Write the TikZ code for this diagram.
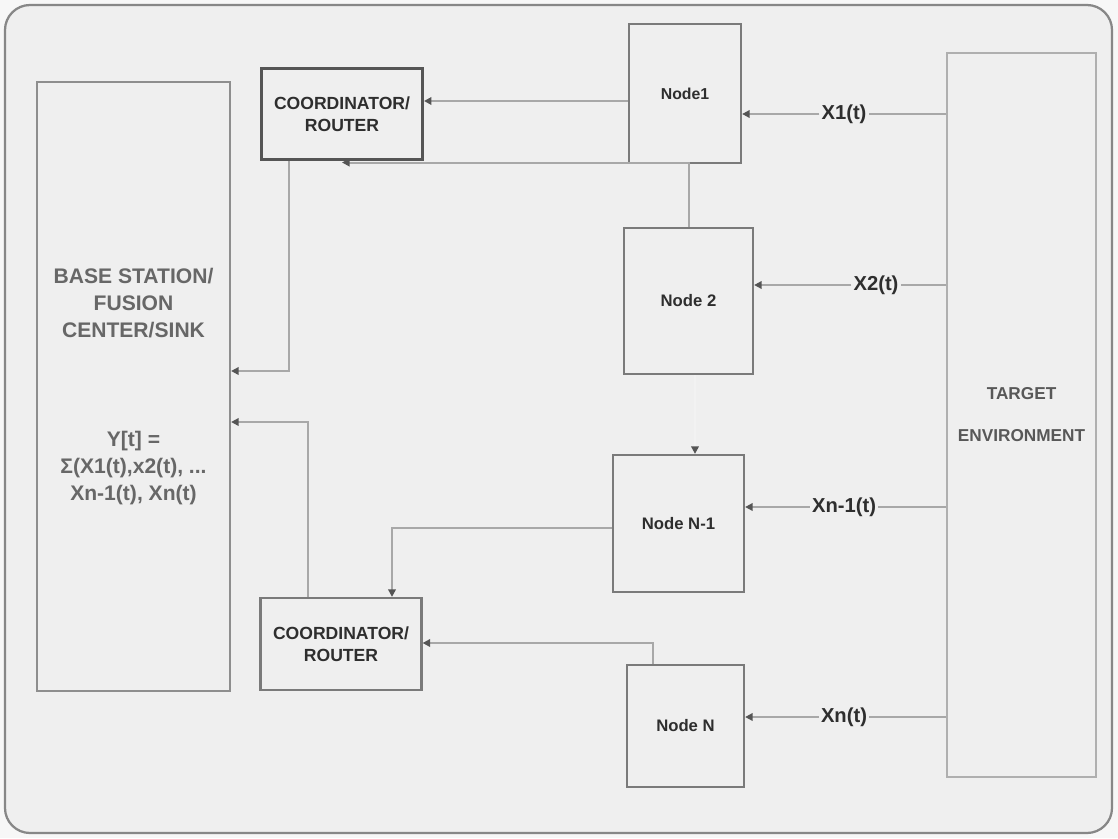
\documentclass[tikz,border=0pt]{standalone}
\usepackage{fontspec}
\setmainfont{Liberation Sans}
\usepackage{xcolor}
\usepackage{tikz}
\usetikzlibrary{arrows.meta,positioning,calc,backgrounds}
\definecolor{paper}{HTML}{F7F7F7}
\definecolor{sheet}{HTML}{EFEFEF}
\definecolor{edge}{HTML}{7A7A7A}
\definecolor{linegray}{HTML}{A8A8A8}
\definecolor{ink}{HTML}{2E2E2E}
\definecolor{softink}{HTML}{676767}

\begin{document}
\begin{tikzpicture}[x=0.02cm, y=-0.02cm,
  box/.style={draw=edge, line width=0.045cm, align=center, inner sep=0pt, text=ink, font=\bfseries\fontsize{9.5pt}{12pt}\selectfont},
  router/.style={box, minimum width=3.22cm, minimum height=1.84cm, font=\bfseries\fontsize{10pt}{12.5pt}\selectfont},
  signal/.style={inner sep=1pt, text=ink, font=\bfseries\fontsize{11.5pt}{13pt}\selectfont},
  feed/.style={draw=linegray, line width=0.04cm},
  link/.style={feed, -{Triangle[length=0.15cm, width=0.15cm, color=edge!70!black]}}
]
  \useasboundingbox (0,0) rectangle (1118,838);

  \node (base) at (133.5,386.5) [box, draw=edge!85, minimum width=3.86cm, minimum height=12.18cm, text=softink, font=\bfseries\fontsize{12pt}{15.4pt}\selectfont] {BASE STATION/\\FUSION\\CENTER/SINK\\[47pt]Y[t] =\\Σ(X1(t),x2(t), ...\\Xn-1(t), Xn(t)};
  \node (c1) at (342,114) [router, draw=edge!70!black, line width=0.06cm] {COORDINATOR/\\ROUTER};
  \node (c2) at (341,644) [router] {COORDINATOR/\\ROUTER};
  \node (n1) at (685,93.5) [box, minimum width=2.24cm, minimum height=2.78cm, font=\bfseries\fontsize{9pt}{11pt}\selectfont] {Node1};
  \node (n2) at (688.5,301) [box, minimum width=2.58cm, minimum height=2.92cm] {Node 2};
  \node (nN1) at (678.5,523.5) [box, minimum width=2.62cm, minimum height=2.74cm] {Node N-1};
  \node (nN) at (685.5,726) [box, minimum width=2.34cm, minimum height=2.44cm] {Node N};
  \node (tg) at (1021.5,415) [box, draw=edge!60, line width=0.03cm, minimum width=2.98cm, minimum height=14.48cm, text=ink!80, font=\bfseries\fontsize{9.8pt}{23.9pt}\selectfont] {TARGET\\ENVIRONMENT};

  \node (x1) at (844,114) [signal] {X1(t)};
  \node (x2) at (876,285) [signal] {X2(t)};
  \node (xn1) at (844,507) [signal] {Xn-1(t)};
  \node (xn) at (844,717) [signal] {Xn(t)};

  \coordinate (k0) at (0,101);
  \coordinate (k1) at (289,371);
  \coordinate (k2) at (308,422);
  \coordinate (k3) at (392,528);
  \coordinate (k4) at (653,643);
  \coordinate (k5) at (695,0);
  \coordinate (k6) at (0,162.5);

  \foreach \s/\d in {x1/n1, x2/n2, xn1/nN1, xn/nN} {
    \draw[feed] (tg.west |- \s) -- (\s);
    \draw[link] (\s) -- (\d.east |- \s);
  }
  \draw[link] (n1.west |- k0) -- (c1.east |- k0);
  \draw[link] (n2.north) |- (c1.south |- k6);
  \draw[link] (c1.south -| k1) -- (k1) -- (base.east |- k1);
  \draw[link] (c2.north -| k2) -- (k2) -- (base.east |- k2);
  \draw[link] (nN1.west |- k3) -- (k3) -- (c2.north -| k3);
  \draw[link] (nN.north -| k4) -- (k4) -- (c2.east |- k4);
  \draw[link, draw=linegray!15] (n2.south -| k5) -- (nN1.north -| k5);

  \begin{scope}[on background layer]
    \fill[paper] (0,0) rectangle (1118,838);
    \draw[draw=edge!90, fill=sheet, line width=0.045cm, rounded corners=0.5cm] (5,5) rectangle (1112,833);
  \end{scope}
\end{tikzpicture}
\end{document}
